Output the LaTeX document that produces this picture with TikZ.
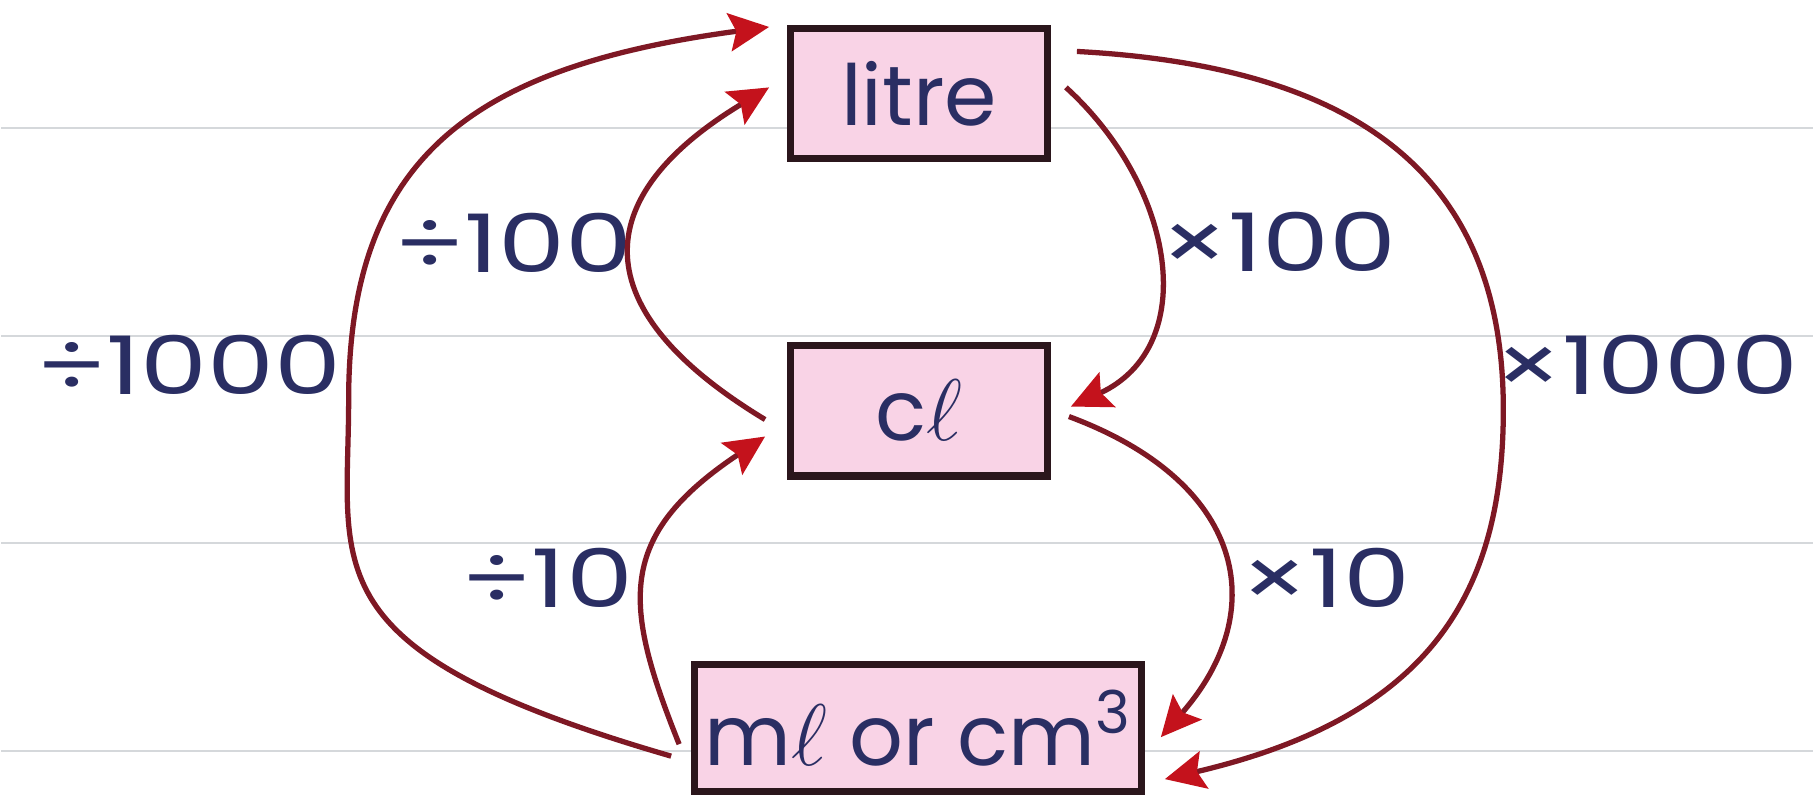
\documentclass[tikz,border=0pt]{standalone}
\usepackage{fontspec}
\setmainfont{Poppins}
\newfontfamily\factorfont{Poppins}[FakeStretch=1.32]
\usepackage{tikz}
\usetikzlibrary{arrows.meta}
\definecolor{boxpink}{HTML}{F9D3E6}
\definecolor{boxline}{HTML}{2B161C}
\definecolor{inkblue}{HTML}{2A2E63}
\definecolor{arrowred}{HTML}{7E1824}
\definecolor{tipred}{HTML}{C4121C}
\definecolor{ruleline}{HTML}{D5D8DB}

\begin{document}
\begin{tikzpicture}[x=0.01cm, y=-0.01cm,
		unitbox/.style={draw=boxline, line width=2pt, fill=boxpink, text=inkblue, font=\fontsize{24}{28}\selectfont, inner sep=0pt},
		factor/.style={text=inkblue, font=\factorfont\fontsize{23}{28}\selectfont, inner sep=0pt},
		conv/.style={draw=arrowred, line width=1.5pt, -{Stealth[length=0.4cm, width=0.38cm, inset=0.07cm, color=tipred]}},
		ruling/.style={draw=ruleline, line width=0.6pt}]
				\path[fill=white] (0,0) rectangle (1814,802);
				
				% Ruled lines of the page
				\draw[ruling] (0,128) -- (1814,128);
				\draw[ruling] (0,336) -- (1814,336);
				\draw[ruling] (0,544) -- (1814,544);
				\draw[ruling] (0,752) -- (1814,752);
				
				% Units
				\node[unitbox, minimum width=2.57cm, minimum height=1.30cm] (litre) at (919,93.5) {litre};
				\node[unitbox, minimum width=2.57cm, minimum height=1.31cm] (cl) at (919,411) {c$\ell$};
				\node[unitbox, minimum width=4.47cm, minimum height=1.27cm] (ml) at (918,729) {m$\ell$ or cm\textsuperscript{3}};
				
				% Factors
				\node[factor] (div1000) at (188,365) {÷1000};
				\node[factor] (div100) at (513,243) {÷100};
				\node[factor] (div10) at (547,578) {÷10};
				\node[factor] (mul100) at (1279,242) {×100};
				\node[factor] (mul1000) at (1647,365) {×1000};
				\node[factor] (mul10) at (1326,578) {×10};
				
				% Going up (divide)
				\coordinate (lbend) at (348,400);
				\draw[conv] ([shift={(-20,28)}]ml.west) .. controls +(-365,-106) and +(0,170) .. (lbend)
					.. controls +(0,-240) and +(-300,40) .. ([shift={(-18,2)}]litre.north west);
				\draw[conv] ([shift={(-22,9)}]cl.west) .. controls +(-182,-110) and +(-182,110) .. ([shift={(-18,-6)}]litre.west);
				\draw[conv] ([shift={(-12,16)}]ml.west) .. controls +(-56,-140) and +(-150,100) .. ([shift={(-22,26)}]cl.west);
				
				% Going down (multiply)
				\coordinate (rbend) at (1504,410);
				\draw[conv] ([shift={(15,-6)}]litre.east) .. controls +(110,100) and +(130,-60) .. ([shift={(20,-4)}]cl.east);
				\draw[conv] ([shift={(18,6)}]cl.east) .. controls +(175,65) and +(112,-128) .. ([shift={(16,9)}]ml.east);
				\draw[conv] ([shift={(26,-42)}]litre.east) .. controls +(300,16) and +(0,-220) .. (rbend)
					.. controls +(0,185) and +(265,-62) .. ([shift={(20,51)}]ml.east);
			\end{tikzpicture}
\end{document}
